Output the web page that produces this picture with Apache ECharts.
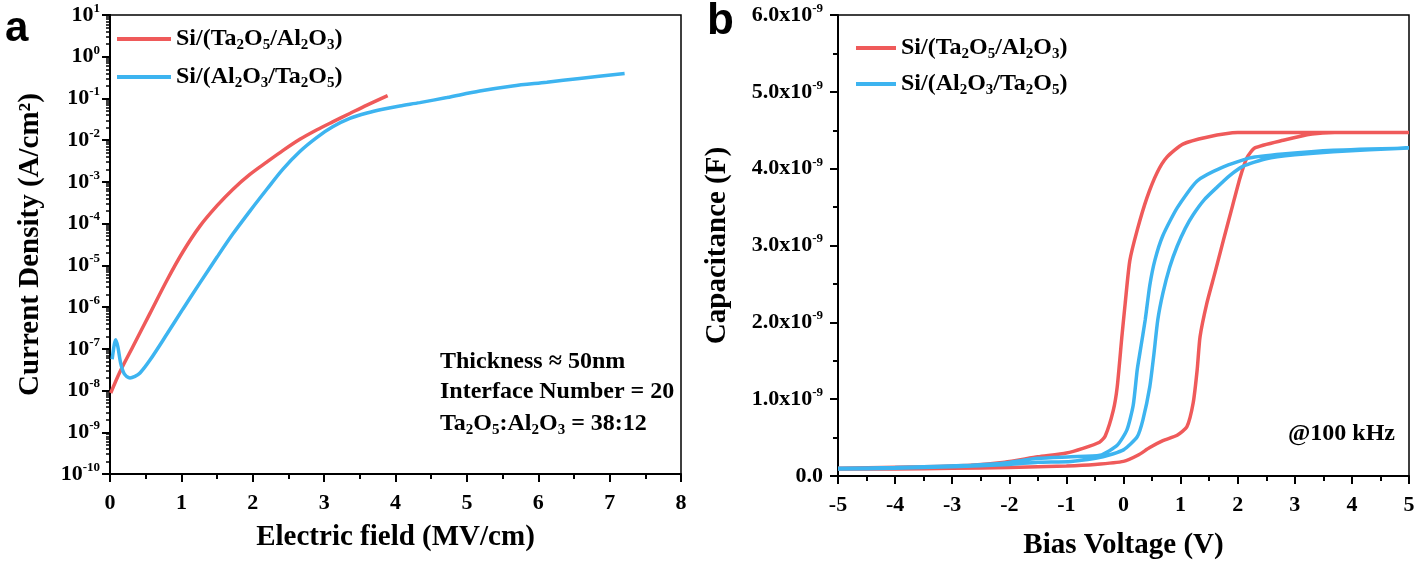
<!DOCTYPE html>
<html>
<head>
<meta charset="utf-8">
<script src="https://cdn.jsdelivr.net/npm/echarts@6/dist/echarts.min.js"></script>
<style>
html,body{margin:0;padding:0;background:#fff;}
#main{width:1418px;height:567px;}
</style>
</head>
<body>
<div id="main"></div>
<script>
// ---------- DATA ----------
const seriesNames = ['Si/(Ta2O5/Al2O3)', 'Si/(Al2O3/Ta2O5)'];

// Panel a: J-E (Electric field MV/cm, Current density A/cm^2)
const redE = [0.01, 0.14, 0.32, 0.56, 0.80, 1.02, 1.26, 1.50, 1.72, 1.96, 2.20, 2.42, 2.66, 2.90, 3.12, 3.36, 3.60, 3.89];
const redJ = [8.71e-9, 2.82e-8, 1.12e-7, 7.08e-7, 4.47e-6, 2.09e-5, 8.71e-5, 2.69e-4, 6.61e-4, 1.51e-3, 3.02e-3, 5.62e-3, 1.05e-2, 1.78e-2, 2.75e-2, 4.37e-2, 6.92e-2, 0.117];
const blueE = [0.03, 0.06, 0.08, 0.11, 0.15, 0.20, 0.28, 0.35, 0.42, 0.56, 0.80, 1.02, 1.26, 1.50, 1.72, 1.96, 2.20, 2.42, 2.66, 2.90, 3.12, 3.36, 3.60, 3.82, 4.06, 4.34, 4.72, 5.18, 5.64, 6.12, 6.58, 7.21];
const blueJ = [5.62e-8, 1.26e-7, 1.66e-7, 1.12e-7, 4.47e-8, 2.51e-8, 2.0e-8, 2.19e-8, 2.63e-8, 5.37e-8, 2.29e-7, 8.91e-7, 3.80e-6, 1.58e-5, 5.62e-5, 2.0e-4, 6.76e-4, 2.0e-3, 5.37e-3, 1.17e-2, 2.09e-2, 3.31e-2, 4.47e-2, 5.50e-2, 6.61e-2, 7.94e-2, 0.105, 0.151, 0.200, 0.245, 0.302, 0.398];

// Panel b: C-V loops (Bias voltage V, Capacitance F)
const redV = [-5, -4, -3, -2, -1, -0.5, 0, 0.25, 0.46, 0.69, 0.94, 1.11, 1.22, 1.29, 1.34, 1.46, 1.60, 1.75, 1.90, 2.04, 2.16, 2.30, 2.80, 3.30, 3.70, 5,
              4, 3, 2.0, 1.46, 1.04, 0.76, 0.59, 0.41, 0.24, 0.11, 0.03, -0.03, -0.11, -0.18, -0.32, -0.42, -0.71, -1.0, -1.5, -2.08, -2.67, -3.5, -5];
const redC = [0.09e-9, 0.09e-9, 0.10e-9, 0.11e-9, 0.13e-9, 0.15e-9, 0.19e-9, 0.27e-9, 0.37e-9, 0.46e-9, 0.53e-9, 0.64e-9, 0.95e-9, 1.38e-9, 1.81e-9, 2.25e-9, 2.64e-9, 3.07e-9, 3.49e-9, 3.88e-9, 4.14e-9, 4.27e-9, 4.37e-9, 4.45e-9, 4.47e-9, 4.47e-9,
              4.47e-9, 4.47e-9, 4.47e-9, 4.41e-9, 4.32e-9, 4.15e-9, 3.95e-9, 3.62e-9, 3.20e-9, 2.80e-9, 2.25e-9, 1.80e-9, 1.16e-9, 0.85e-9, 0.52e-9, 0.44e-9, 0.36e-9, 0.30e-9, 0.25e-9, 0.18e-9, 0.14e-9, 0.12e-9, 0.10e-9];
const blueV = [-5, -4, -3, -2, -1.5, -0.92, -0.36, 0, 0.24, 0.34, 0.46, 0.53, 0.60, 0.69, 0.81, 0.94, 1.08, 1.22, 1.42, 1.64, 1.86, 2.09, 2.50, 3.00, 3.67, 5,
               3.67, 2.79, 2.22, 1.74, 1.29, 0.94, 0.69, 0.55, 0.46, 0.38, 0.30, 0.24, 0.17, 0.06, -0.11, -0.41, -0.92, -1.5, -2.08, -2.67, -4, -5];
const blueC = [0.09e-9, 0.10e-9, 0.12e-9, 0.15e-9, 0.18e-9, 0.19e-9, 0.25e-9, 0.34e-9, 0.51e-9, 0.73e-9, 1.16e-9, 1.57e-9, 2.03e-9, 2.38e-9, 2.72e-9, 2.99e-9, 3.22e-9, 3.40e-9, 3.60e-9, 3.76e-9, 3.91e-9, 4.03e-9, 4.13e-9, 4.18e-9, 4.22e-9, 4.27e-9,
               4.24e-9, 4.19e-9, 4.14e-9, 4.02e-9, 3.84e-9, 3.49e-9, 3.13e-9, 2.81e-9, 2.48e-9, 2.03e-9, 1.66e-9, 1.38e-9, 0.92e-9, 0.60e-9, 0.40e-9, 0.27e-9, 0.25e-9, 0.23e-9, 0.17e-9, 0.14e-9, 0.11e-9, 0.10e-9];

const capTicks = ['0.0', '1.0', '2.0', '3.0', '4.0', '5.0', '6.0'];
const logMantissas = [2, 3, 4, 5, 6, 7, 8, 9];   // log-axis minor tick mantissas
const logDecades = [-10, -9, -8, -7, -6, -5, -4, -3, -2, -1, 0];

// ---------- STYLE ----------
const SERIF = "'Liberation Serif','Times New Roman',serif";
const SANS = "'Liberation Sans',Arial,sans-serif";
const RED = '#EF5A5A';
const BLUE = '#3DB4F0';

function zip(a, b) { return a.map((v, i) => [v, b[i]]); }
function subFmt(name) { return name.replace(/(\d)/g, '{s|$1}'); }
// minor tick values for the log axis of panel a (2..9 x 10^n)
const minorLogTicks = [];
logDecades.forEach(d => logMantissas.forEach(m => minorLogTicks.push(Number(m + 'e' + d))));

const subRich = { s: { fontSize: 15, fontWeight: 'bold', fontFamily: SERIF, color: '#000', verticalAlign: 'bottom', lineHeight: 12 } };
const tickRich = {
  b: { fontSize: 22, fontWeight: 'bold', fontFamily: SERIF, color: '#000', lineHeight: 26 },
  p: { fontSize: 13, fontWeight: 'bold', fontFamily: SERIF, color: '#000', verticalAlign: 'top', lineHeight: 18 }
};
const nameStyle = { fontSize: 29, fontWeight: 'bold', fontFamily: SERIF, color: '#000', lineHeight: 32 };
const xLabel = { fontSize: 22, fontWeight: 'bold', fontFamily: SERIF, color: '#000', margin: 18 };
const axLine = { onZero: false, lineStyle: { color: '#000', width: 2 } };

const chart = echarts.init(document.getElementById('main'), null, { renderer: 'canvas' });

const option = {
  backgroundColor: '#fff',
  animation: false,
  grid: [
    { left: 110, top: 15, width: 571, height: 459, show: true, borderColor: '#000', borderWidth: 1.5, backgroundColor: 'transparent' },
    { left: 838, top: 15, width: 571, height: 461, show: true, borderColor: '#000', borderWidth: 1.5, backgroundColor: 'transparent' },
    // overlay grid on panel a that only carries the log-spaced minor ticks
    { left: 110, top: 15, width: 571, height: 459, show: false }
  ],
  xAxis: [
    {
      gridIndex: 0, type: 'value', min: 0, max: 8, interval: 1,
      name: 'Electric field (MV/cm)', nameLocation: 'middle', nameGap: 48, nameTextStyle: nameStyle,
      axisLine: axLine,
      axisTick: { length: 8, lineStyle: { color: '#000', width: 2 } },
      minorTick: { show: true, splitNumber: 2, length: 5, lineStyle: { color: '#000', width: 2 } },
      splitLine: { show: false },
      axisLabel: xLabel
    },
    {
      gridIndex: 1, type: 'value', min: -5, max: 5, interval: 1,
      name: 'Bias Voltage (V)', nameLocation: 'middle', nameGap: 54, nameTextStyle: nameStyle,
      axisLine: axLine,
      axisTick: { length: 8, lineStyle: { color: '#000', width: 2 } },
      minorTick: { show: true, splitNumber: 2, length: 5, lineStyle: { color: '#000', width: 2 } },
      splitLine: { show: false },
      axisLabel: xLabel
    },
    {
      gridIndex: 2, type: 'value', min: 0, max: 8, show: false
    }
  ],
  yAxis: [
    {
      gridIndex: 0, type: 'log', logBase: 10, min: 1e-10, max: 10, interval: 1, splitNumber: 11, position: 'left',
      name: 'Current Density (A/cm²)', nameLocation: 'middle', nameGap: 63, nameTextStyle: nameStyle,
      axisLine: axLine,
      axisTick: { length: 8, lineStyle: { color: '#000', width: 2 } },
      splitLine: { show: false },
      minorSplitLine: { show: false },
      axisLabel: {
        margin: 10, showMinLabel: true, showMaxLabel: true,
        formatter: function (v) { return '{b|10}{p|' + Math.round(Math.log10(v)) + '}'; },
        rich: tickRich
      }
    },
    {
      gridIndex: 1, type: 'value', min: 0, max: 6e-9, interval: 1e-9, position: 'left',
      name: 'Capacitance (F)', nameLocation: 'middle', nameGap: 104, nameTextStyle: nameStyle,
      axisLine: axLine,
      axisTick: { length: 8, lineStyle: { color: '#000', width: 2 } },
      minorTick: { show: true, splitNumber: 2, length: 5, lineStyle: { color: '#000', width: 2 } },
      splitLine: { show: false },
      axisLabel: {
        margin: 15,
        formatter: function (v) {
          const i = Math.round(v / 1e-9);
          return i === 0 ? '{b|' + capTicks[0] + '}' : '{b|' + capTicks[i] + 'x10}{p|-9}';
        },
        rich: tickRich
      }
    },
    {
      // log axis of the overlay grid: only its minor ticks are visible
      gridIndex: 2, type: 'log', logBase: 10, min: 1e-10, max: 10, interval: 1, position: 'left',
      axisLine: { show: true, onZero: false, lineStyle: { color: '#000', width: 2 } },
      axisLabel: { show: true, color: 'rgba(0,0,0,0)' },
      splitLine: { show: false },
      minorSplitLine: { show: false },
      axisTick: { show: true, length: 4, customValues: minorLogTicks, lineStyle: { color: '#000', width: 1.5 } }
    }
  ],
  legend: [
    {
      data: seriesNames, orient: 'vertical', left: 112, top: 20, itemGap: 10,
      icon: 'rect', itemWidth: 54, itemHeight: 4, selectedMode: false,
      formatter: subFmt,
      textStyle: { fontSize: 24, fontWeight: 'bold', fontFamily: SERIF, color: '#000', lineHeight: 28, rich: subRich }
    },
    {
      data: seriesNames, orient: 'vertical', left: 851, top: 29, itemGap: 8,
      icon: 'rect', itemWidth: 40, itemHeight: 4, selectedMode: false,
      formatter: subFmt,
      textStyle: { fontSize: 24, fontWeight: 'bold', fontFamily: SERIF, color: '#000', lineHeight: 28, rich: subRich }
    }
  ],
  graphic: [
    { type: 'text', left: 5, top: 8, style: { text: 'a', font: 'bold 42px ' + SANS, fill: '#000' } },
    { type: 'text', left: 707, top: 0, style: { text: 'b', font: 'bold 44px ' + SANS, fill: '#000' } },
    { type: 'text', x: 440, y: 362, style: { text: 'Thickness ≈ 50nm', font: 'bold 24px ' + SERIF, fill: '#000', verticalAlign: 'middle' } },
    { type: 'text', x: 440, y: 392, style: { text: 'Interface Number = 20', font: 'bold 24px ' + SERIF, fill: '#000', verticalAlign: 'middle' } },
    { type: 'text', x: 440, y: 424, style: { text: 'Ta{s|2}O{s|5}:Al{s|2}O{s|3} = 38:12', fontSize: 24, fontWeight: 'bold', fontFamily: SERIF, fill: '#000', verticalAlign: 'middle', lineHeight: 28, rich: subRich } },
    { type: 'text', x: 1288, y: 434, style: { text: '@100 kHz', font: 'bold 24px ' + SERIF, fill: '#000', verticalAlign: 'middle' } }
  ],
  series: [
    { name: seriesNames[0], type: 'line', xAxisIndex: 0, yAxisIndex: 0, data: zip(redE, redJ), smooth: 0.3, showSymbol: false, symbol: 'none', lineStyle: { color: RED, width: 3.5 }, itemStyle: { color: RED } },
    { name: seriesNames[1], type: 'line', xAxisIndex: 0, yAxisIndex: 0, data: zip(blueE, blueJ), smooth: 0.3, showSymbol: false, symbol: 'none', lineStyle: { color: BLUE, width: 3.5 }, itemStyle: { color: BLUE } },
    { name: seriesNames[0], type: 'line', xAxisIndex: 1, yAxisIndex: 1, data: zip(redV, redC), smooth: 0.2, showSymbol: false, symbol: 'none', lineStyle: { color: RED, width: 3.5 }, itemStyle: { color: RED } },
    { name: seriesNames[1], type: 'line', xAxisIndex: 1, yAxisIndex: 1, data: zip(blueV, blueC), smooth: 0.2, showSymbol: false, symbol: 'none', lineStyle: { color: BLUE, width: 3.5 }, itemStyle: { color: BLUE } },
    { type: 'line', xAxisIndex: 2, yAxisIndex: 2, data: [], silent: true, showSymbol: false }
  ]
};
chart.setOption(option);
</script>
</body>
</html>
